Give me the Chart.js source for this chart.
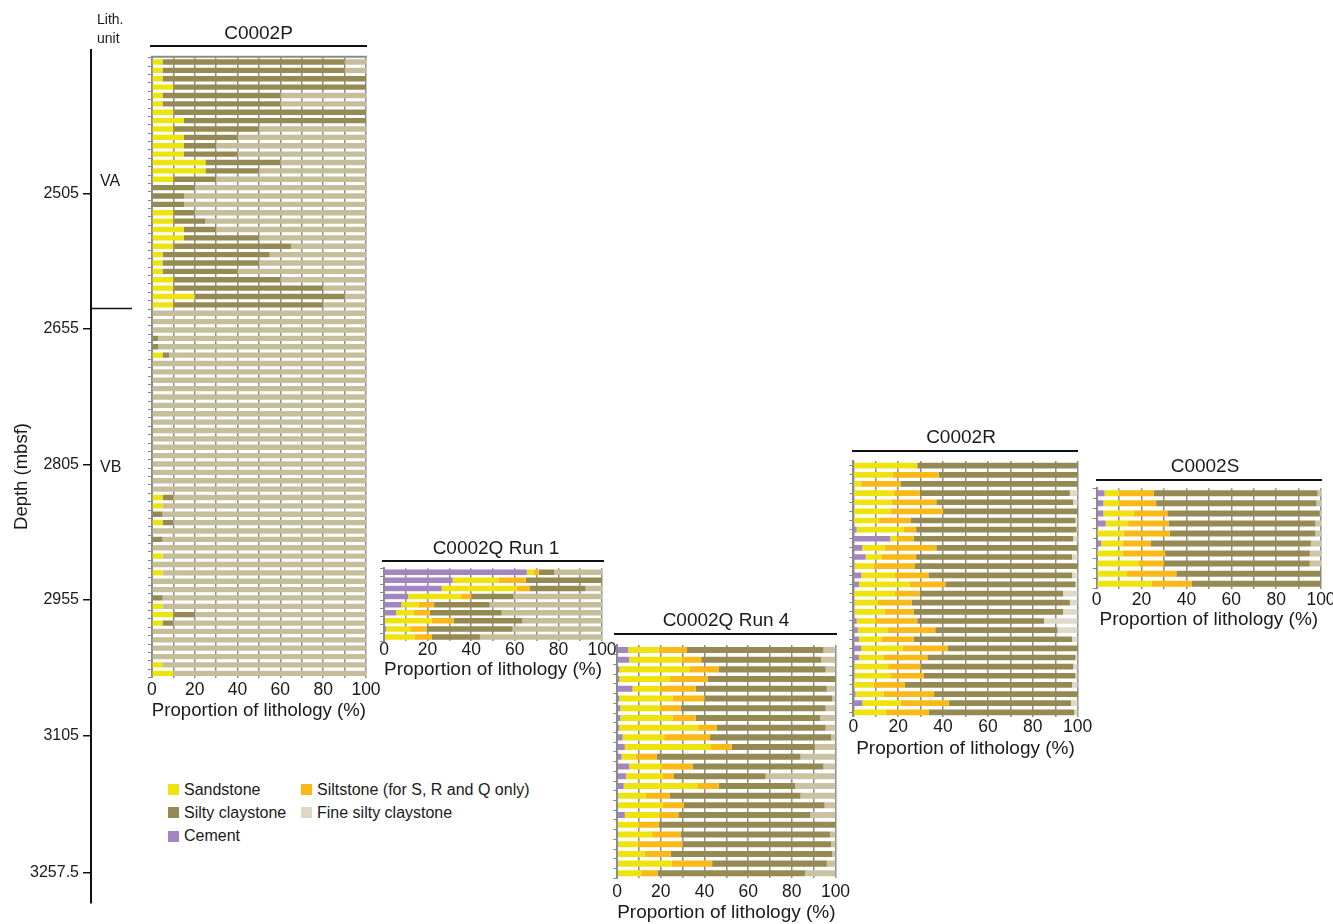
<!DOCTYPE html>
<html>
<head>
<meta charset="utf-8">
<script src="https://cdn.jsdelivr.net/npm/chart.js@4.4.1/dist/chart.umd.min.js"></script>
<style>
  body { margin: 0; background: #fff; font-family: "Liberation Sans", Arial, Helvetica, sans-serif; color: #1a1a1a; }
  #page { position: relative; width: 1333px; height: 924px; overflow: hidden; background: #fff; }
  #page canvas { position: absolute; }
  .hdr { position: absolute; width: 240px; text-align: center; font-size: 19px; line-height: 20px; white-space: nowrap; }
  .hdr-line { position: absolute; height: 0; border-top: 2px solid #111; }
  .leg { position: absolute; font-size: 16px; line-height: 18px; white-space: nowrap; }
  .sw { position: absolute; width: 11px; height: 11px; }
</style>
</head>
<body>
<div id="page"></div>
<script>
// ---------------- Lithology proportions (%) per sample, top to bottom ----------------

// Hole C0002P (sandstone / silty claystone / fine silty claystone)
const pSand  = [5,5,5,10,5,5,10,15,10,15,15,15,25,25,10,
                0,0,0,10,10,15,15,10,5,5,5,10,10,20,10,
                0,0,0,0,0,5,
                0,0,0,0,0,0,0,0,0,0,0,0,0,0,0,
                0,5,5,0,5,0,0,0,5,0,5,0,0,0,5,10,5,0,0,0,0,5,10];
const pSilty = [85,85,95,90,55,55,90,85,40,25,15,25,35,25,20,
                20,15,15,10,15,15,35,55,50,45,35,50,70,70,70,
                0,0,0,3,3,3,
                0,0,0,0,0,0,0,0,0,0,0,0,0,0,0,
                0,5,0,5,5,0,5,0,0,0,0,0,0,5,0,10,5,0,0,0,0,0,0];
const pFine  = [10,10,0,0,40,40,0,0,50,60,70,60,40,50,70,
                80,85,85,80,75,70,50,35,45,50,60,40,20,10,20,
                100,100,100,97,97,92,
                100,100,100,100,100,100,100,100,100,100,100,100,100,100,100,
                100,90,95,95,90,100,95,100,95,100,95,100,100,95,95,80,90,100,100,100,100,95,90];

// Hole C0002Q, run 1
const q1Cement = [65.5,31.5,26.5,11,8,5.5,0.5,1,0.5];
const q1Sand   = [3,21,34.5,24,8,8,21.5,11,13.5];
const q1Silt   = [2.5,12.5,6,5,7,7.5,10,7.5,8];
const q1Silty  = [7,35,25.5,19.5,25.5,33,31.5,39.5,22];
const q1Fine   = [22,0,7.5,40.5,51.5,46,36.5,41,56];

// Hole C0002Q, run 4
const q4Cement = [5,5.5,1,1,7,1,1.5,1.5,1,2.5,3.5,2,5.5,4,3,0.5,0,3.5,0,0.5,0.5,0,0.5,0];
const q4Sand   = [14,24,32,23,12.5,24.5,18.5,24,36,19,39.5,6.5,15,17,34,12.5,21,15.5,10,15.5,9,12.5,24.5,11];
const q4Silt   = [13,9,13.5,17.5,16.5,14.5,9,10.5,8.5,21,9.5,9.5,14,5,9.5,11,9.5,9,9,13,20.5,12,18.5,7.5];
const q4Silty  = [62.5,55,49,58.5,60,58.5,66.5,57,50,55.5,38,66,60,42,35,60,64.5,60.5,81,68.5,68,74,52.5,67.5];
const q4Fine   = [5.5,6.5,4.5,0,4,1.5,4.5,7,4.5,2,9.5,16,5.5,32,18.5,16,5,11.5,0,2.5,2,1.5,4,14];

// Hole C0002R
const rCement = [0,0,0,0,0,0,0,1.5,16.5,4,5.5,0.5,3.5,2.5,0,0.5,0.5,1.5,2,2.5,3.5,2.5,0.5,0.5,0,1,4,0];
const rSand   = [28.5,17.5,3.5,18,17,16.5,11.5,21,3,10,7,8.5,15,22.5,18.5,10.5,13.5,8.5,13.5,10,18.5,11,15,16,9,12.5,17,14.5];
const rSilt   = [0,20.5,17.5,11.5,20,23.5,14,5.5,7.5,23,15.5,18.5,15,16,11,15,13,18.5,21,14.5,20,19.5,14.5,15,14,22.5,21.5,19];
const rSilty  = [71.5,62,79,67,61,60,73.5,71.5,71,63,69.5,72.5,64,58,64,70.5,66.5,56.5,54.5,70.5,58,66,68,67.5,74.5,64,54.5,65];
const rFine   = [0,0,0,3.5,2,0,1,0.5,2,0,2.5,0,2.5,1,6.5,3.5,6.5,15,9,2.5,0,1,2,1,2.5,0,3,1.5];

// Hole C0002S
const sCement = [3.5,3,3,4,0,2,0,0,0,0];
const sSand   = [6.5,7,13.5,10,12,9.5,11.5,18.5,13.5,24.5];
const sSilt   = [15.5,16.5,15,18,20.5,12.5,19,11.5,22,18];
const sSilty  = [73,71.5,68,65.5,65,71.5,64.5,65,64.5,57.5];
const sFine   = [1.5,2,0.5,2.5,2.5,4.5,5,5,0,0];

// Depth axis
const depthTicks = [2505, 2655, 2805, 2955, 3105, 3257.5];
const depthMin = 2346, depthMax = 3290.7;
const unitNames = ['VA', 'VB'];
const unitLabelDepths = [2492, 2808];
const unitBoundaryDepth = 2632;

// Proportion axis
const xTickStep = 10;
const xLabelEvery = 20;
const xTitle = 'Proportion of lithology (%)';

// ---------------- Styling ----------------
const FONT = '"Liberation Sans", Arial, Helvetica, sans-serif';
Chart.defaults.font.family = FONT;
Chart.defaults.color = '#1a1a1a';

const TICK_SIZE = 17.5;
const TITLE_SIZE = 19;

const COL = {
  cement: '#A386BF',
  sand:   '#EFE30E',
  silt:   '#FBB917',
  silty:  '#958A54',
  fineLegend: '#DCD8C4'
};

const page = document.getElementById('page');

function addCanvas(left, top, w, h) {
  const c = document.createElement('canvas');
  c.width = w; c.height = h;
  c.style.left = left + 'px'; c.style.top = top + 'px';
  c.style.width = w + 'px'; c.style.height = h + 'px';
  page.appendChild(c);
  return c;
}

function addHeader(text, cx, ty, lineY, l, r) {
  const d = document.createElement('div');
  d.className = 'hdr';
  d.textContent = text;
  d.style.left = (cx - 120) + 'px';
  d.style.top = (ty - 10) + 'px';
  page.appendChild(d);
  const ln = document.createElement('div');
  ln.className = 'hdr-line';
  ln.style.left = l + 'px';
  ln.style.width = (r - l) + 'px';
  ln.style.top = (lineY - 1) + 'px';
  page.appendChild(ln);
}

const topEdge = {
  id: 'topEdge',
  afterDraw(chart) {
    if (!chart.options.plugins.topEdge || !chart.options.plugins.topEdge.show) return;
    const { ctx, chartArea: a } = chart;
    ctx.save();
    ctx.strokeStyle = '#8a8a8a';
    ctx.lineWidth = 2;
    ctx.beginPath();
    ctx.moveTo(a.left - 1, a.top - 1);
    ctx.lineTo(a.right + 1, a.top - 1);
    ctx.stroke();
    ctx.restore();
  }
};

// One lithology panel: horizontal stacked bars on a 0-100 % axis
function panel(p) {
  const Y_W = 6;
  const titleHalf = TITLE_SIZE * 0.6;
  const tickHalf = TICK_SIZE * 0.6;
  const cl = Math.floor(p.l - Y_W);
  const ct = Math.floor(p.t - 4);
  const cw = Math.ceil(p.r + 18 - cl);
  const ch = Math.ceil(p.titleY + titleHalf - ct);
  const padL = p.l - Y_W - cl;
  const padT = p.t - ct;
  const padR = cl + cw - p.r;
  const axisH = ct + ch - p.b;
  const titlePadB = (ct + ch) - titleHalf - p.titleY;
  const tickPad = p.tickY - p.b - tickHalf;

  const canvas = addCanvas(cl, ct, cw, ch);
  const labels = p.series[0].data.map((_, i) => i + 1);
  const datasets = p.series.map(s => ({
    label: s.label,
    data: s.data,
    backgroundColor: s.color,
    borderWidth: 0,
    barPercentage: p.barPct,
    categoryPercentage: 1
  }));

  new Chart(canvas, {
    type: 'bar',
    data: { labels, datasets },
    options: {
      indexAxis: 'y',
      responsive: false,
      animation: false,
      events: [],
      devicePixelRatio: 1,
      layout: { padding: { left: padL, top: padT, right: padR, bottom: 0 } },
      plugins: {
        legend: { display: false },
        tooltip: { enabled: false },
        topEdge: { show: !!p.topEdge }
      },
      scales: {
        x: {
          type: 'linear', stacked: true, min: 0, max: 100, position: 'bottom',
          afterFit: s => { s.height = axisH; },
          grid: { color: '#8c8c8c', lineWidth: 1.5, drawTicks: false },
          border: { display: false },
          ticks: {
            stepSize: xTickStep, autoSkip: false, maxRotation: 0, minRotation: 0,
            padding: tickPad, color: '#1a1a1a', font: { size: TICK_SIZE },
            callback: v => (v % xLabelEvery === 0 ? String(v) : '')
          },
          title: {
            display: true, text: xTitle, color: '#1a1a1a',
            font: { size: TITLE_SIZE }, padding: { top: 0, bottom: titlePadB }
          }
        },
        y: {
          type: 'category', stacked: true, position: 'left',
          afterFit: s => { s.width = Y_W; },
          grid: {
            display: true, drawOnChartArea: false, drawTicks: true, tickLength: 4,
            color: p.tickColor || '#8a8a8a', lineWidth: 1, offset: p.tickOffset !== false
          },
          border: { display: true, color: '#8a8a8a', width: 2 },
          ticks: { display: false }
        }
      }
    },
    plugins: [topEdge]
  });

  addHeader(p.header.text, p.header.cx, p.header.ty, p.header.lineY, p.header.l, p.header.r);
}

function fiveSeries(c, s, si, sy, f, fineColor) {
  return [
    { label: 'Cement', data: c, color: COL.cement },
    { label: 'Sandstone', data: s, color: COL.sand },
    { label: 'Siltstone', data: si, color: COL.silt },
    { label: 'Silty claystone', data: sy, color: COL.silty },
    { label: 'Fine silty claystone', data: f, color: fineColor }
  ];
}

// ---------------- Depth axis with lithologic units ----------------
const unitPlugin = {
  id: 'lithUnits',
  afterDraw(chart) {
    const { ctx, chartArea: a } = chart;
    const y = chart.scales.y;
    ctx.save();
    ctx.fillStyle = '#1a1a1a';
    ctx.textAlign = 'left';
    ctx.textBaseline = 'middle';
    ctx.font = '14px ' + FONT;
    ctx.fillText('Lith.', 97, 20);
    ctx.fillText('unit', 97, 39);
    ctx.font = '16px ' + FONT;
    unitNames.forEach((n, i) => ctx.fillText(n, 100, y.getPixelForValue(unitLabelDepths[i])));
    const yb = Math.round(y.getPixelForValue(unitBoundaryDepth)) + 0.5;
    ctx.strokeStyle = '#111';
    ctx.lineWidth = 1.5;
    ctx.beginPath();
    ctx.moveTo(a.left, yb);
    ctx.lineTo(132, yb);
    ctx.stroke();
    ctx.restore();
  }
};

new Chart(addCanvas(0, 0, 140, 924), {
  type: 'bar',
  data: { labels: [], datasets: [] },
  options: {
    responsive: false,
    animation: false,
    events: [],
    devicePixelRatio: 1,
    layout: { padding: { top: 50, bottom: 21, left: 0, right: 0 } },
    plugins: { legend: { display: false }, tooltip: { enabled: false } },
    scales: {
      x: { display: false },
      y: {
        type: 'linear', position: 'left', reverse: true, min: depthMin, max: depthMax,
        afterFit: s => { s.width = 91; },
        afterBuildTicks: s => { s.ticks = depthTicks.map(v => ({ value: v })); },
        grid: { display: true, drawOnChartArea: false, drawTicks: true, tickLength: 8, color: '#111', lineWidth: 1.5 },
        border: { display: true, color: '#111', width: 2 },
        ticks: { color: '#1a1a1a', font: { size: 16 }, padding: 4, callback: v => String(v) },
        title: { display: true, text: 'Depth (mbsf)', color: '#1a1a1a', font: { size: 18.5 }, padding: { top: 10.9, bottom: 0 } }
      }
    }
  },
  plugins: [unitPlugin]
});

// ---------------- Panels ----------------
panel({
  l: 151, r: 366, t: 57.8, b: 677.5, tickY: 690, titleY: 711, barPct: 0.64, topEdge: true,
  header: { text: 'C0002P', cx: 258.5, ty: 33, lineY: 46, l: 150, r: 367 },
  series: [
    { label: 'Sandstone', data: pSand, color: COL.sand },
    { label: 'Silty claystone', data: pSilty, color: COL.silty },
    { label: 'Fine silty claystone', data: pFine, color: '#C6BE9B' }
  ]
});

panel({
  l: 384, r: 602, t: 568.2, b: 641.1, tickY: 650, titleY: 670, barPct: 0.68,
  header: { text: 'C0002Q Run 1', cx: 496, ty: 548, lineY: 561, l: 382, r: 604 },
  series: fiveSeries(q1Cement, q1Sand, q1Silt, q1Silty, q1Fine, '#C6BE9B')
});

panel({
  l: 615.5, r: 835.5, t: 645.1, b: 878.2, tickY: 892, titleY: 913, barPct: 0.62,
  header: { text: 'C0002Q Run 4', cx: 726, ty: 620, lineY: 634, l: 614, r: 837 },
  series: fiveSeries(q4Cement, q4Sand, q4Silt, q4Silty, q4Fine, '#C9C2A3')
});

panel({
  l: 853.3, r: 1077.7, t: 461.1, b: 716.9, tickY: 727, titleY: 749, barPct: 0.62,
  tickOffset: false, tickColor: '#6f86b3',
  header: { text: 'C0002R', cx: 961, ty: 437, lineY: 451, l: 852, r: 1078 },
  series: fiveSeries(rCement, rSand, rSilt, rSilty, rFine, '#DEDAC9')
});

panel({
  l: 1096.7, r: 1321, t: 488.3, b: 588.7, tickY: 600, titleY: 620, barPct: 0.6,
  header: { text: 'C0002S', cx: 1205, ty: 466, lineY: 480, l: 1096, r: 1322 },
  series: fiveSeries(sCement, sSand, sSilt, sSilty, sFine, '#CCC5A8')
});

// ---------------- Legend ----------------
const legendItems = [
  { text: 'Sandstone', color: COL.sand, x: 168, y: 789.5 },
  { text: 'Siltstone (for S, R and Q only)', color: COL.silt, x: 301, y: 789.5 },
  { text: 'Silty claystone', color: COL.silty, x: 168, y: 812.5 },
  { text: 'Fine silty claystone', color: COL.fineLegend, x: 301, y: 812.5 },
  { text: 'Cement', color: COL.cement, x: 168, y: 836 }
];
legendItems.forEach(it => {
  const sw = document.createElement('div');
  sw.className = 'sw';
  sw.style.background = it.color;
  sw.style.left = it.x + 'px';
  sw.style.top = (it.y - 5.5) + 'px';
  page.appendChild(sw);
  const t = document.createElement('div');
  t.className = 'leg';
  t.textContent = it.text;
  t.style.left = (it.x + 16) + 'px';
  t.style.top = (it.y - 9) + 'px';
  page.appendChild(t);
});
</script>
</body>
</html>
